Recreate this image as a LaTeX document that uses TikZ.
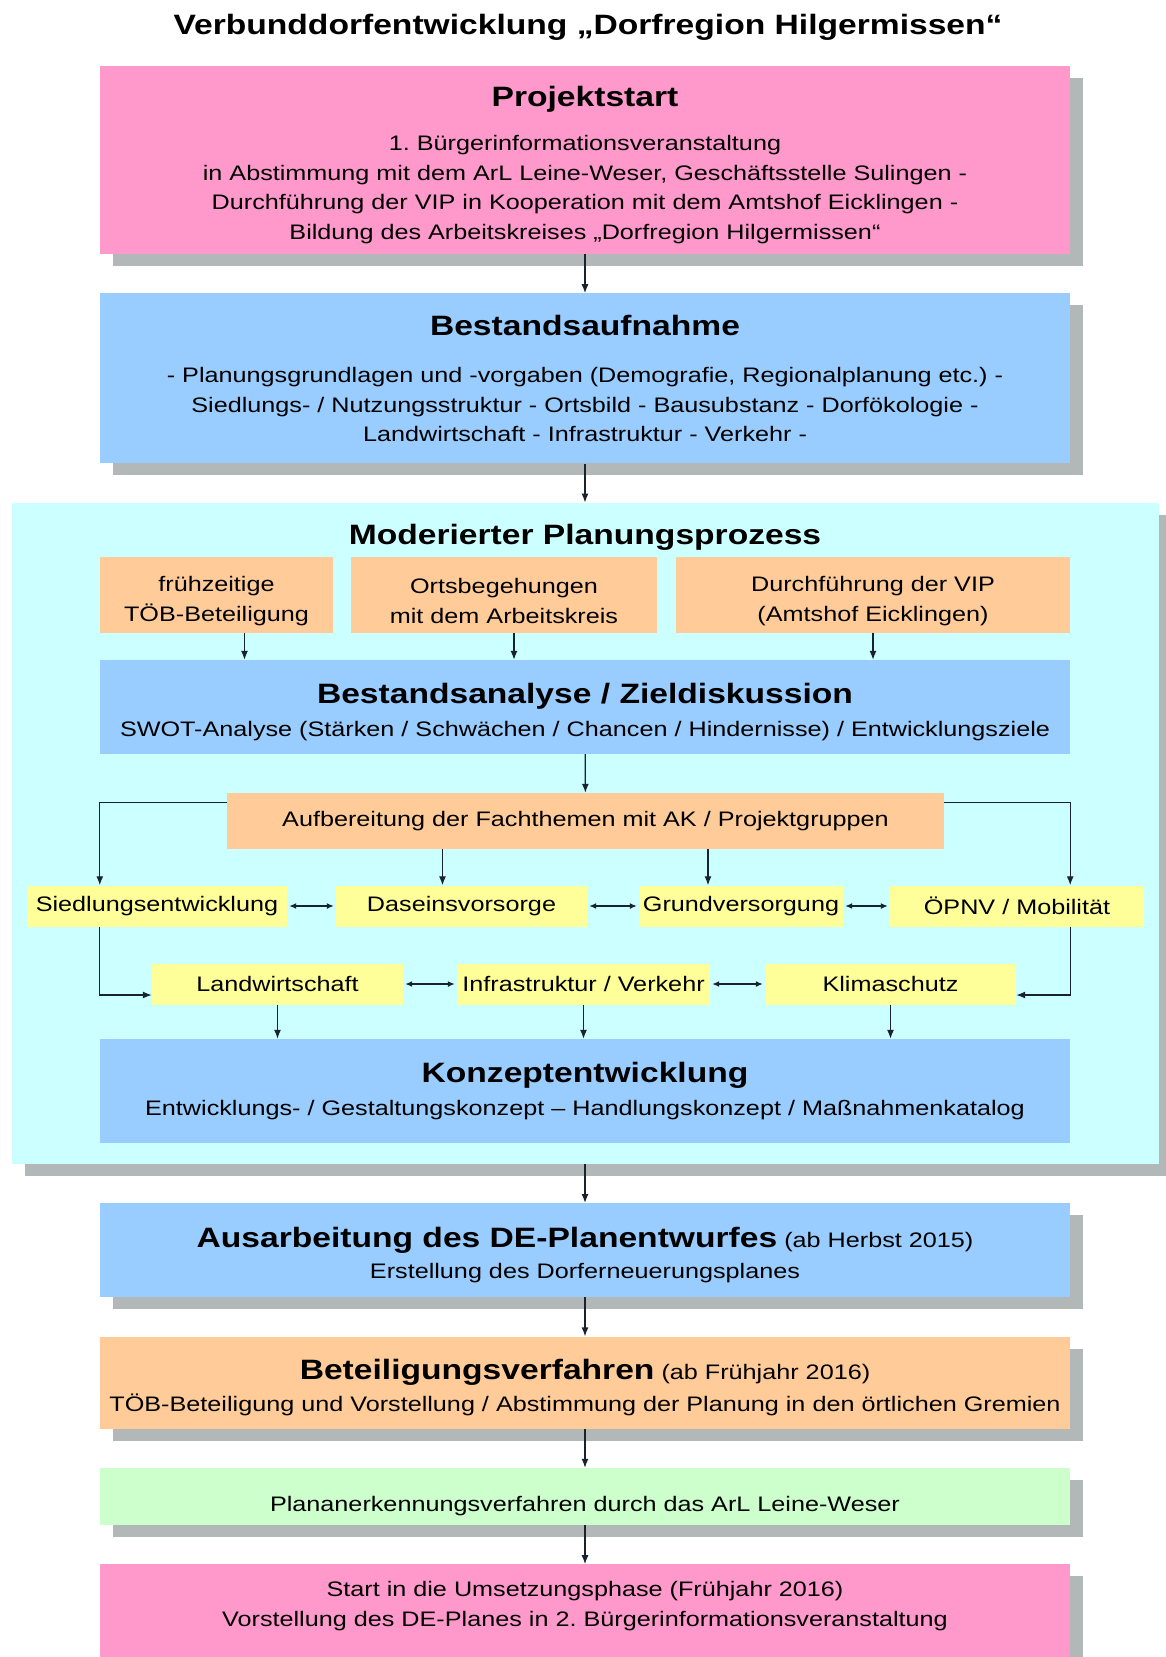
\documentclass[tikz,border=0pt]{standalone}
\usepackage{fontspec}
\setmainfont{Liberation Sans}[FakeStretch=1.2]
\usepackage{tikz}
\usetikzlibrary{arrows.meta, positioning, shadows, calc}
\definecolor{pinkfill}{RGB}{255,153,204}
\definecolor{bluefill}{RGB}{153,204,255}
\definecolor{cyanfill}{RGB}{204,255,255}
\definecolor{orangefill}{RGB}{255,204,153}
\definecolor{yellowfill}{RGB}{255,255,153}
\definecolor{greenfill}{RGB}{204,255,204}
\definecolor{shadegray}{RGB}{178,183,183}
\definecolor{linecol}{RGB}{25,35,45}

\newcommand{\hdfont}{\fontsize{28}{34}\selectfont\bfseries}
\newcommand{\txfont}{\fontsize{21}{29.6}\selectfont}
\newcommand{\hd}[1]{{\hdfont\rule{0pt}{30pt}#1}}
\frenchspacing

\begin{document}
\begin{tikzpicture}[
  x=1pt, y=-1pt,
  boxshadow/.style={drop shadow={shadow xshift=13pt, shadow yshift=-12pt,
                                 fill=shadegray, opacity=1}},
  mainbox/.style={inner sep=3pt, minimum width=970pt, align=center, font=\txfont},
  region/.style={fill=cyanfill, minimum width=1147pt, minimum height=661pt, inner sep=0pt,
                 boxshadow},
  subbox/.style={fill=orangefill, inner sep=2pt, align=center, font=\txfont},
  topic/.style={fill=yellowfill, inner sep=2pt, minimum height=41pt, font=\txfont},
  arr/.style={-{Latex[length=9pt, width=7pt]}, line width=1.3pt, draw=linecol},
  dbl/.style={{Latex[length=7pt, width=6pt]}-{Latex[length=7pt, width=6pt]},
              line width=1.3pt, draw=linecol, shorten <=2pt, shorten >=2pt}
]
  \useasboundingbox (0,0) rectangle (1165,1657);

  \node[font=\hdfont] (title) at (588,27) {Verbunddorfentwicklung „Dorfregion Hilgermissen“};

  % main column
  \node[mainbox, boxshadow, fill=pinkfill, minimum height=188pt] (proj) at (585,160)
       {\hd{Projektstart}\\[15pt]
        1. Bürgerinformationsveranstaltung\\
        in Abstimmung mit dem ArL Leine-Weser, Geschäftsstelle Sulingen -\\
        Durchführung der VIP in Kooperation mit dem Amtshof Eicklingen -\\
        Bildung des Arbeitskreises „Dorfregion Hilgermissen“};
  \node[mainbox, boxshadow, fill=bluefill, minimum height=170pt, below=39pt of proj] (bestand)
       {{\hdfont Bestandsaufnahme}\\[18pt]
        - Planungsgrundlagen und -vorgaben (Demografie, Regionalplanung etc.) -\\
        Siedlungs- / Nutzungsstruktur - Ortsbild - Bausubstanz - Dorfökologie -\\
        Landwirtschaft - Infrastruktur - Verkehr -};
  \node[region, below=39pt of bestand] (region) {};
  \node[mainbox, boxshadow, fill=bluefill, minimum height=94pt, below=39pt of region] (ausarb)
       {\hd{Ausarbeitung des DE-Planentwurfes} (ab Herbst 2015)\\[2pt]
        Erstellung des Dorferneuerungsplanes};
  \node[mainbox, boxshadow, fill=orangefill, minimum height=92pt, below=39pt of ausarb] (beteil)
       {\hd{Beteiligungsverfahren} (ab Frühjahr 2016)\\[2pt]
        TÖB-Beteiligung und Vorstellung / Abstimmung der Planung in den örtlichen Gremien};
  \node[mainbox, boxshadow, fill=greenfill, minimum height=57pt, below=39pt of beteil] (plan)
       {\rule{0pt}{34pt}Plananerkennungsverfahren durch das ArL Leine-Weser};
  \node[mainbox, boxshadow, fill=pinkfill, minimum height=93pt, below=39pt of plan] (start)
       {Start in die Umsetzungsphase (Frühjahr 2016)\\
        Vorstellung des DE-Planes in 2. Bürgerinformationsveranstaltung\rule[-14pt]{0pt}{14pt}};

  \draw[arr] (proj) -- (bestand);
  \draw[arr] (bestand) -- (region);
  \draw[arr] (region) -- (ausarb);
  \draw[arr] (ausarb) -- (beteil);
  \draw[arr] (beteil) -- (plan);
  \draw[arr] (plan) -- (start);

  % moderated process
  \node[font=\hdfont] (modhead) at (585,537) {Moderierter Planungsprozess};
  \node[subbox, minimum width=233pt, minimum height=76pt] (toeb) at (216.5,595)
       {\rule{0pt}{27pt}frühzeitige\\TÖB-Beteiligung};
  \node[subbox, minimum width=306pt, minimum height=76pt] (orts) at (504,595)
       {\rule{0pt}{27pt}Ortsbegehungen\\mit dem Arbeitskreis};
  \node[subbox, minimum width=394pt, minimum height=76pt] (vip) at (873,595)
       {\rule{0pt}{27pt}Durchführung der VIP\\(Amtshof Eicklingen)};
  \node[mainbox, fill=bluefill, minimum height=94pt] (analyse) at (585,707)
       {\hd{Bestandsanalyse / Zieldiskussion}\\[3pt]
        SWOT-Analyse (Stärken / Schwächen / Chancen / Hindernisse) / Entwicklungsziele};
  \node[subbox, minimum width=717pt, minimum height=56pt] (aufb) at (585.5,821)
       {Aufbereitung der Fachthemen mit AK / Projektgruppen};

  \node[topic, minimum width=260pt] (siedl)  at (157,906)   {Siedlungsentwicklung};
  \node[topic, minimum width=251pt] (dasein) at (461.5,906) {Daseinsvorsorge};
  \node[topic, minimum width=204pt] (grund)  at (741,906)   {Grundversorgung};
  \node[topic, minimum width=254pt] (oepnv)  at (1017,906)  {ÖPNV / Mobilität};
  \node[topic, minimum width=251pt] (landw)  at (277.5,984) {Landwirtschaft};
  \node[topic, minimum width=253pt] (infra)  at (583.5,984) {Infrastruktur / Verkehr};
  \node[topic, minimum width=251pt] (klima)  at (890.5,984) {Klimaschutz};

  \node[mainbox, fill=bluefill, minimum height=104pt] (konzept) at (585,1091)
       {{\hdfont Konzeptentwicklung}\\[3pt]
        Entwicklungs- / Gestaltungskonzept – Handlungskonzept / Maßnahmenkatalog};

  \draw[arr] ($(toeb.south)+(28,0)$) -- ($(toeb.south |- analyse.north)+(28,0)$);
  \draw[arr] ($(orts.south)+(10,0)$) -- ($(orts.south |- analyse.north)+(10,0)$);
  \draw[arr] (vip) -- (vip |- analyse.north);
  \draw[arr] (analyse) -- (aufb);

  \draw[arr] ([yshift=-10pt]aufb.north west) -| (siedl.north -| konzept.west);
  \draw[arr] ([yshift=-10pt]aufb.north east) -| (oepnv.north -| konzept.east);
  \draw[arr] ($(aufb.south -| dasein.north)+(-19,0)$) -- ($(dasein.north)+(-19,0)$);
  \draw[arr] ($(aufb.south -| grund.north)+(-33,0)$) -- ($(grund.north)+(-33,0)$);

  \draw[dbl] (siedl) -- (dasein);
  \draw[dbl] (dasein) -- (grund);
  \draw[dbl] (grund) -- (oepnv);

  \draw[arr] (siedl.south -| konzept.west) |- ([yshift=-11pt]landw.west);
  \draw[arr] (oepnv.south -| konzept.east) |- ([yshift=-11pt]klima.east);
  \draw[dbl] (landw) -- (infra);
  \draw[dbl] (infra) -- (klima);

  \draw[arr] (landw) -- (landw |- konzept.north);
  \draw[arr] (infra) -- (infra |- konzept.north);
  \draw[arr] (klima) -- (klima |- konzept.north);
\end{tikzpicture}
\end{document}
